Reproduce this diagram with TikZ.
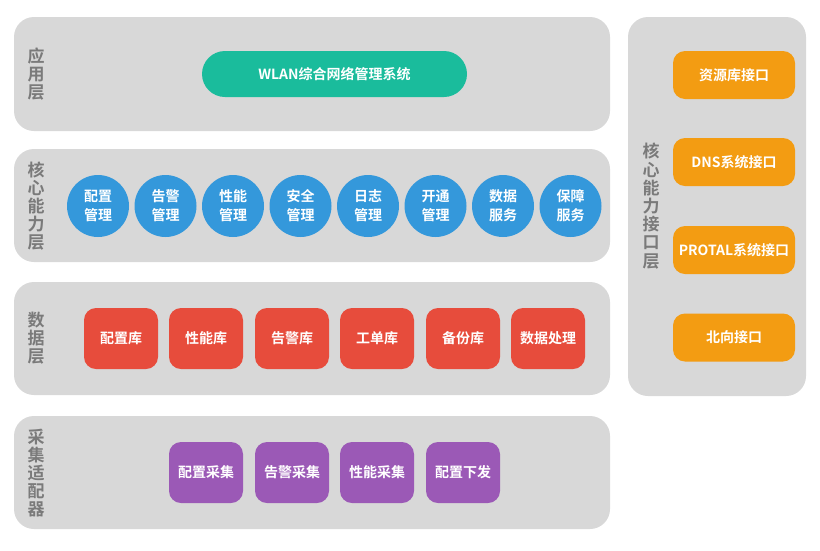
\documentclass[tikz,border=0pt]{standalone}
\usepackage{fontspec}
\setmainfont{Noto Sans CJK SC}[BoldFont={Noto Sans CJK SC Bold}]
\definecolor{panelgray}{HTML}{D8D8D8}
\definecolor{labelgray}{HTML}{7A7A7A}
\definecolor{appgreen}{HTML}{1ABC9C}
\definecolor{coreblue}{HTML}{3498DB}
\definecolor{datared}{HTML}{E74C3C}
\definecolor{collpurple}{HTML}{9B59B6}
\definecolor{ifaceorange}{HTML}{F39C12}
\begin{document}
\begin{tikzpicture}[x=1pt,y=-1pt,
  panel/.style={fill=panelgray,draw=none,rounded corners=20pt},
  layerlabel/.style={text=labelgray,font=\fontsize{17}{18.2}\selectfont\bfseries,align=center,inner sep=0pt},
  wtext/.style={text=white,font=\fontsize{14}{19}\selectfont\bfseries,align=center,inner sep=0pt},
  apppill/.style={wtext,fill=appgreen,rounded corners=23pt,minimum width=265pt,minimum height=46pt},
  corecircle/.style={wtext,circle,fill=coreblue,minimum size=62pt},
  databox/.style={wtext,fill=datared,rounded corners=12pt,minimum width=74pt,minimum height=61pt},
  collbox/.style={wtext,fill=collpurple,rounded corners=12pt,minimum width=74pt,minimum height=61pt},
  ifacebox/.style={wtext,fill=ifaceorange,rounded corners=12pt,minimum width=122pt,minimum height=48pt},
]
\useasboundingbox (0,0) rectangle (820,550);
\fill[white] (0,0) rectangle (820,550);
% panels
\fill[panel] (14,17) rectangle (610,131);
\fill[panel] (14,149) rectangle (610,262);
\fill[panel] (14,282) rectangle (610,395);
\fill[panel] (14,416) rectangle (610,529);
\fill[panel] (628,17) rectangle (806,396);
% layer labels
\node[layerlabel] (lapp) at (36,74) {应\\用\\层};
\node[layerlabel] (lcore) at (36,206) {核\\心\\能\\力\\层};
\node[layerlabel] (ldata) at (36,338) {数\\据\\层};
\node[layerlabel] (lcoll) at (36,473) {采\\集\\适\\配\\器};
\node[layerlabel] (liface) at (651,206) {核\\心\\能\\力\\接\\口\\层};
% application
\node[apppill] (wlan) at (334.5,74) {WLAN综合网络管理系统};
% core
\node[corecircle] (c1) at (98,206) {配置\\管理};
\node[corecircle] (c2) at (165.5,206) {告警\\管理};
\node[corecircle] (c3) at (233,206) {性能\\管理};
\node[corecircle] (c4) at (300.5,206) {安全\\管理};
\node[corecircle] (c5) at (368,206) {日志\\管理};
\node[corecircle] (c6) at (435.5,206) {开通\\管理};
\node[corecircle] (c7) at (503,206) {数据\\服务};
\node[corecircle] (c8) at (570.5,206) {保障\\服务};
% data
\node[databox] (d1) at (121,338.5) {配置库};
\node[databox] (d2) at (206,338.5) {性能库};
\node[databox] (d3) at (292,338.5) {告警库};
\node[databox] (d4) at (377,338.5) {工单库};
\node[databox] (d5) at (463,338.5) {备份库};
\node[databox] (d6) at (548,338.5) {数据处理};
% collection
\node[collbox] (p1) at (206,472.5) {配置采集};
\node[collbox] (p2) at (292,472.5) {告警采集};
\node[collbox] (p3) at (377,472.5) {性能采集};
\node[collbox] (p4) at (463,472.5) {配置下发};
% interfaces
\node[ifacebox] (i1) at (734,75) {资源库接口};
\node[ifacebox] (i2) at (734,162) {DNS系统接口};
\node[ifacebox] (i3) at (734,250) {PROTAL系统接口};
\node[ifacebox] (i4) at (734,337.5) {北向接口};
\end{tikzpicture}
\end{document}
